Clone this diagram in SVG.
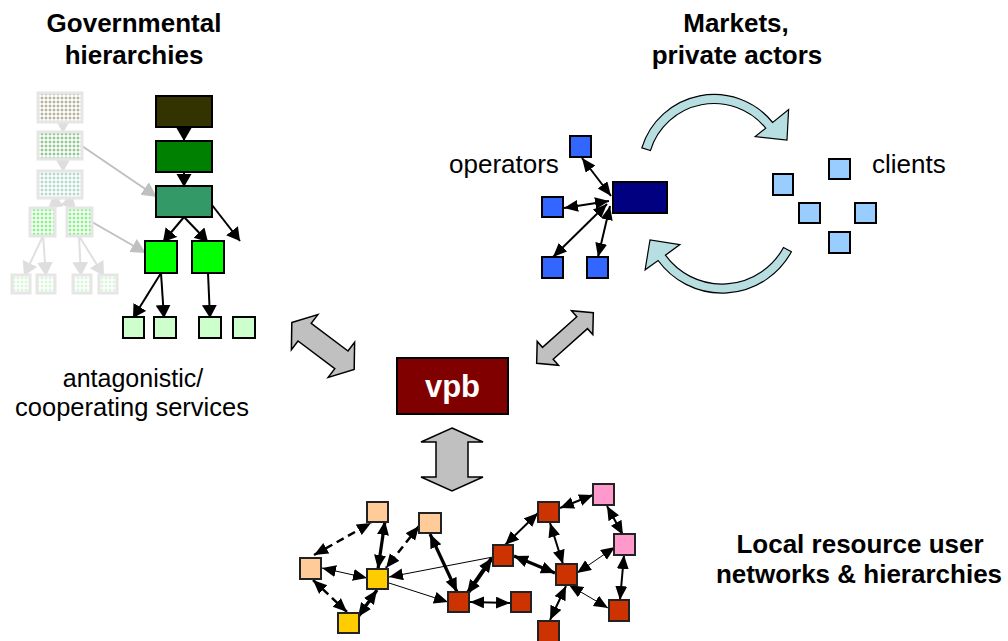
<svg xmlns="http://www.w3.org/2000/svg" width="1008" height="641" viewBox="0 0 1008 641">
<style>
.tb{font-family:"Liberation Sans",Arial,sans-serif;font-weight:bold;font-size:26px;fill:#000;text-anchor:middle}
.tr{font-family:"Liberation Sans",Arial,sans-serif;font-size:26px;fill:#000}
.bx{stroke:#000;stroke-width:2}
.fb{stroke:#e6e6e6;stroke-width:3}
.ha{stroke:#000;stroke-width:2;fill:none;marker-end:url(#hA)}
.fa{stroke:#e0e0e0;stroke-width:2;fill:none;marker-end:url(#hF)}
.ga{stroke:#c0c0c0;stroke-width:2;fill:none;marker-end:url(#hG)}
.nw{stroke:#000;stroke-width:2;fill:none;marker-start:url(#hN);marker-end:url(#hN)}
.thk{stroke-width:3.2}
.thn{stroke-width:1}
.dsh{stroke-dasharray:8,5;stroke-width:2.5}
.blk{fill:#c0c0c0;stroke:#000;stroke-width:1.5;stroke-linejoin:miter}
.crv{fill:#b7dfe2;stroke:#000;stroke-width:1.2}
.sq{stroke:#222;stroke-width:2}
</style>
<defs>
<marker id="hA" markerUnits="userSpaceOnUse" markerWidth="14" markerHeight="16" refX="13" refY="7.5" orient="auto-start-reverse"><path d="M0,0 L13,7.5 L0,15 z" fill="#000"/></marker>
<marker id="hN" markerUnits="userSpaceOnUse" markerWidth="15" markerHeight="13" refX="14" refY="6" orient="auto-start-reverse"><path d="M0,0 L14,6 L0,12 z" fill="#000"/></marker>
<marker id="hG" markerUnits="userSpaceOnUse" markerWidth="16" markerHeight="16" refX="15" refY="7.5" orient="auto-start-reverse"><path d="M0,0 L15,7.5 L0,15 z" fill="#c0c0c0"/></marker>
<marker id="hF" markerUnits="userSpaceOnUse" markerWidth="16" markerHeight="18" refX="14" refY="8" orient="auto-start-reverse"><path d="M0,0 L14,8 L0,16 z" fill="#dedede"/></marker>
<pattern id="p1" width="4" height="4" patternUnits="userSpaceOnUse"><rect width="4" height="4" fill="#fff"/><path d="M2,0.5v3M0.5,2h3" stroke="#8c8c66" stroke-width="0.8"/></pattern>
<pattern id="p2" width="4" height="4" patternUnits="userSpaceOnUse"><rect width="4" height="4" fill="#fff"/><path d="M2,0.5v3M0.5,2h3" stroke="#55aa55" stroke-width="0.8"/></pattern>
<pattern id="p3" width="4" height="4" patternUnits="userSpaceOnUse"><rect width="4" height="4" fill="#fff"/><path d="M2,0.5v3M0.5,2h3" stroke="#88c4ad" stroke-width="0.8"/></pattern>
<pattern id="p4" width="4" height="4" patternUnits="userSpaceOnUse"><rect width="4" height="4" fill="#fff"/><path d="M2,0.5v3M0.5,2h3" stroke="#44ee44" stroke-width="0.8"/></pattern>
<pattern id="p5" width="4" height="4" patternUnits="userSpaceOnUse"><rect width="4" height="4" fill="#fff"/><path d="M2,0.5v3M0.5,2h3" stroke="#c4f0c4" stroke-width="0.8"/></pattern>
</defs>

<g id="labels">
<text class="tb" x="134" y="32">Governmental</text>
<text class="tb" x="134" y="64">hierarchies</text>
<text class="tb" x="736" y="32">Markets,</text>
<text class="tb" x="737" y="64">private actors</text>
<text class="tr" x="449" y="173">operators</text>
<text class="tr" x="872" y="173">clients</text>
<text class="tr" x="133" y="387" text-anchor="middle" style="font-size:25px">antagonistic/</text>
<text class="tr" x="132" y="416" text-anchor="middle" style="font-size:25.5px">cooperating services</text>
<text class="tb" x="860" y="553">Local resource user</text>
<text class="tb" x="859" y="583">networks &amp; hierarchies</text>
</g>

<g id="connectors">
<path class="fa" d="M63,122 L63,133"/>
<path class="fa" d="M63,159 L63,172"/>
<path class="fa" d="M61,198 L48,209"/>
<path class="fa" d="M65,198 L76,209"/>
<path class="fa" d="M43,236 L24,276"/>
<path class="fa" d="M43,236 L46,276"/>
<path class="fa" d="M79,236 L81,276"/>
<path class="fa" d="M79,236 L104,276"/>
<path class="ga" d="M82,146 L157,197"/>
<path class="ga" d="M92,222 L146,253"/>
<path class="ha" d="M184,127 L184,141"/>
<path class="ha" d="M184,172 L184,187"/>
<path class="ha" d="M184,217 L163,242"/>
<path class="ha" d="M184,217 L208,242"/>
<path class="ha" d="M205,196 L240,241"/>
<path class="ha" d="M161,273 L133,318"/>
<path class="ha" d="M161,273 L164,318"/>
<path class="ha" d="M208,273 L210,318"/>
<path class="nw" d="M611,196 L582,158"/>
<path class="nw" d="M609,201 L564,208"/>
<path class="nw" d="M607,204 L553,257"/>
<path class="nw" d="M610,206 L598,257"/>
<path class="nw dsh" d="M314,555 L371,523"/>
<path class="nw thk" d="M385,521 L378,569"/>
<path class="nw dsh" d="M419,526 L386,568"/>
<path class="nw thn" d="M322,568 L367,578"/>
<path class="nw dsh" d="M313,580 L347,612"/>
<path class="nw thk" d="M358,617 L377,590"/>
<path class="thn" style="stroke:#000;fill:none;marker-end:url(#hN)" d="M493,557 L389,577"/>
<path class="thn" style="stroke:#000;fill:none;marker-end:url(#hN)" d="M389,583 L448,602"/>
<path class="nw thk" d="M430,534 L457,592"/>
<path class="nw thk" style="stroke-width:4" d="M467,594 L492,558"/>
<path class="nw" d="M470,602 L510,603"/>
<path class="nw" d="M505,545 L538,513"/>
<path class="nw thk" d="M514,556 L555,573"/>
<path class="nw" d="M550,523 L563,564"/>
<path class="nw" d="M560,508 L593,495"/>
<path class="nw" d="M607,506 L623,535"/>
<path class="nw thn" d="M615,547 L577,573"/>
<path class="nw" d="M624,555 L620,600"/>
<path class="nw thn" d="M569,585 L608,608"/>
<path class="nw" d="M566,586 L550,620"/>
</g>

<g id="faded-hierarchy">
<rect class="fb" x="38" y="93" width="44" height="29" fill="url(#p1)"/>
<rect class="fb" x="38" y="132" width="44" height="27" fill="url(#p2)"/>
<rect class="fb" x="38" y="171" width="44" height="27" fill="url(#p3)"/>
<rect class="fb" x="30" y="208" width="25" height="28" fill="url(#p4)"/>
<rect class="fb" x="67" y="208" width="25" height="28" fill="url(#p4)"/>
<rect class="fb" x="12" y="275" width="18" height="18" fill="url(#p5)"/>
<rect class="fb" x="37" y="275" width="18" height="18" fill="url(#p5)"/>
<rect class="fb" x="73" y="275" width="18" height="18" fill="url(#p5)"/>
<rect class="fb" x="99" y="275" width="18" height="18" fill="url(#p5)"/>
</g>

<g id="hierarchy">
<rect class="bx" x="156" y="96" width="56" height="31" fill="#333300"/>
<rect class="bx" x="156" y="141" width="56" height="31" fill="#008000"/>
<rect class="bx" x="156" y="186" width="56" height="31" fill="#339966"/>
<rect class="bx" x="145" y="241" width="32" height="32" fill="#00ff00"/>
<rect class="bx" x="192" y="241" width="32" height="32" fill="#00ff00"/>
<rect class="bx" x="123" y="317" width="21" height="21" fill="#ccffcc"/>
<rect class="bx" x="154" y="317" width="22" height="21" fill="#ccffcc"/>
<rect class="bx" x="199" y="317" width="22" height="21" fill="#ccffcc"/>
<rect class="bx" x="233" y="317" width="22" height="21" fill="#ccffcc"/>
</g>

<g id="operators">
<rect class="bx" x="613" y="182" width="54" height="31" fill="#000080"/>
<rect class="bx" x="570" y="136" width="21" height="21" fill="#3366ff"/>
<rect class="bx" x="542" y="197" width="21" height="20" fill="#3366ff"/>
<rect class="bx" x="542" y="257" width="21" height="21" fill="#3366ff"/>
<rect class="bx" x="587" y="257" width="21" height="21" fill="#3366ff"/>
</g>

<g id="market-cycle">
<path class="crv" d="M641.8,147.9 A75.5 75.5 0 0 1 772.7,122.5 L788.6,109.6 L787,140 L755.2,136.6 L765.7,128.2 A66.5 66.5 0 0 0 650.4,150.6 Z"/>
<path class="crv" d="M791.4,251.8 A79 79 0 0 1 658.1,260.5 L645.1,269.8 L650,240 L679.9,244.6 L665.4,255.2 A70 70 0 0 0 783.5,247.5 Z"/>
</g>

<g id="clients">
<rect class="bx" x="829" y="159" width="21" height="20" fill="#99ccff"/>
<rect class="bx" x="773" y="174" width="20" height="21" fill="#99ccff"/>
<rect class="bx" x="799" y="203" width="21" height="20" fill="#99ccff"/>
<rect class="bx" x="855" y="203" width="21" height="20" fill="#99ccff"/>
<rect class="bx" x="829" y="232" width="21" height="21" fill="#99ccff"/>
</g>

<g id="vpb">
<rect class="bx" x="397" y="358" width="111" height="56" fill="#800000"/>
<text x="452.5" y="397" style="font-family:'Liberation Sans',Arial,sans-serif;font-weight:bold;font-size:31px;fill:#fff;text-anchor:middle">vpb</text>
</g>

<g id="exchange-arrows">
<polygon class="blk" transform="translate(323,346) rotate(36.9)" points="-39,0 -23,-22 -23,-11 23,-11 23,-22 39,0 23,22 23,11 -23,11 -23,22"/>
<polygon class="blk" transform="translate(565,338) rotate(-41.8)" points="-38,0 -23,-16 -23,-8 23,-8 23,-16 38,0 23,16 23,8 -23,8 -23,16"/>
<polygon class="blk" transform="translate(452,459.5) rotate(90)" points="-31.5,0 -17.5,-31 -17.5,-16 17.5,-16 17.5,-31 31.5,0 17.5,31 17.5,16 -17.5,16 -17.5,31"/>
</g>

<g id="local-network">
<rect class="sq" x="367" y="502" width="21" height="20" fill="#ffcc99"/>
<rect class="sq" x="419" y="513" width="22" height="20" fill="#ffcc99"/>
<rect class="sq" x="300" y="558" width="21" height="21" fill="#ffcc99"/>
<rect class="sq" x="367" y="569" width="21" height="20" fill="#ffcc00"/>
<rect class="sq" x="338" y="613" width="21" height="20" fill="#ffcc00"/>
<rect class="sq" x="448" y="592" width="21" height="20" fill="#cc3300"/>
<rect class="sq" x="511" y="592" width="20" height="20" fill="#cc3300"/>
<rect class="sq" x="493" y="545" width="20" height="21" fill="#cc3300"/>
<rect class="sq" x="538" y="502" width="21" height="20" fill="#cc3300"/>
<rect class="sq" x="593" y="484" width="21" height="21" fill="#ff99cc"/>
<rect class="sq" x="614" y="534" width="21" height="21" fill="#ff99cc"/>
<rect class="sq" x="556" y="564" width="21" height="21" fill="#cc3300"/>
<rect class="sq" x="609" y="600" width="20" height="21" fill="#cc3300"/>
<rect class="sq" x="538" y="621" width="21" height="21" fill="#cc3300"/>
</g>
</svg>
